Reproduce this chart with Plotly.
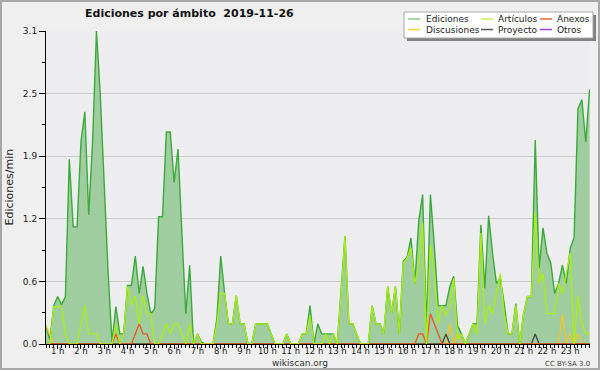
import plotly.graph_objects as go

# ---------------- data (10-minute steps, hours from 0.5) ----------------
hours = [round(0.5 + i / 6, 4) for i in range(141)]

ediciones = [
    0.18, 0.04, 0.38, 0.47, 0.39, 0.47, 1.83, 1.16, 1.16, 2.0, 2.3, 1.28,
    2.0, 3.1, 2.45, 1.5, 0.7, 0.02, 0.37, 0.1, 0.1, 0.58, 0.58, 0.87,
    0.5, 0.77, 0.5, 0.3, 0.35, 1.26, 1.26, 2.1, 2.1, 1.6, 1.93, 1.1,
    0.3, 0.78, 0.0, 0.1, 0.02, 0.0, 0.0, 0.0, 0.25, 0.87, 0.5, 0.2,
    0.2, 0.48, 0.2, 0.2, 0.0, 0.0, 0.2, 0.2, 0.2, 0.2, 0.1, 0.0,
    0.0, 0.0, 0.1, 0.0, 0.0, 0.0, 0.1, 0.1, 0.38, 0.0, 0.2, 0.1,
    0.1, 0.1, 0.1, 0.0, 0.5, 1.07, 0.2, 0.2, 0.1, 0.0, 0.0, 0.0,
    0.38, 0.2, 0.2, 0.1, 0.57, 0.3, 0.57, 0.1, 0.82, 0.86, 1.05, 0.6,
    1.22, 1.48, 0.15, 1.48, 0.98, 0.38, 0.38, 0.38, 0.57, 0.67, 0.18, 0.1,
    0.0, 0.1, 0.2, 0.2, 1.18, 0.55, 1.27, 0.9, 0.6, 0.65, 0.4, 0.1,
    0.1, 0.4, 0.0, 0.3, 0.47, 0.47, 2.02, 0.75, 1.15, 0.9, 0.8, 0.5,
    0.6, 0.78, 0.6, 0.95, 1.05, 2.33, 2.42, 2.0, 2.52,
]

articulos = [
    0.0, 0.0, 0.37, 0.37, 0.37, 0.1, 0.0, 0.0, 0.0, 0.2, 0.38, 0.1,
    0.1, 0.1, 0.0, 0.0, 0.0, 0.0, 0.2, 0.0, 0.1, 0.57, 0.38, 0.48,
    0.2, 0.48, 0.3, 0.3, 0.0, 0.0, 0.1, 0.2, 0.1, 0.2, 0.2, 0.1,
    0.0, 0.2, 0.0, 0.1, 0.0, 0.0, 0.0, 0.0, 0.2, 0.5, 0.5, 0.2,
    0.2, 0.48, 0.2, 0.2, 0.0, 0.0, 0.2, 0.2, 0.2, 0.2, 0.1, 0.0,
    0.0, 0.0, 0.1, 0.0, 0.0, 0.0, 0.1, 0.1, 0.28, 0.0, 0.0, 0.0,
    0.1, 0.0, 0.1, 0.0, 0.5, 1.07, 0.2, 0.2, 0.1, 0.0, 0.0, 0.0,
    0.38, 0.2, 0.2, 0.1, 0.57, 0.3, 0.57, 0.1, 0.8, 0.85, 0.95, 0.6,
    0.8, 1.2, 0.0, 0.98, 0.7, 0.2, 0.38, 0.28, 0.38, 0.65, 0.05, 0.1,
    0.0, 0.1, 0.2, 0.1, 1.1, 0.2, 0.38, 0.3, 0.5, 0.7, 0.3, 0.1,
    0.1, 0.38, 0.0, 0.3, 0.47, 0.47, 1.3, 0.6, 0.7, 0.3, 0.3, 0.3,
    0.6, 0.5, 0.7, 0.9, 0.0, 0.48, 0.2, 0.1, 0.1,
]

anexos = [
    0, 0, 0, 0, 0, 0, 0, 0, 0, 0, 0, 0,
    0, 0, 0, 0, 0, 0, 0.1, 0, 0, 0, 0, 0.1,
    0.2, 0.1, 0.1, 0, 0, 0, 0, 0, 0, 0, 0, 0,
    0, 0, 0, 0, 0, 0, 0, 0, 0, 0, 0, 0,
    0, 0, 0, 0, 0, 0, 0, 0, 0, 0, 0, 0,
    0, 0, 0, 0, 0, 0, 0, 0, 0, 0, 0, 0,
    0, 0, 0, 0, 0, 0, 0, 0, 0, 0, 0, 0,
    0, 0, 0, 0, 0, 0, 0, 0, 0, 0, 0, 0,
    0.1, 0.1, 0, 0.3, 0.2, 0.1, 0, 0, 0, 0, 0, 0,
    0, 0, 0, 0, 0, 0, 0, 0, 0, 0, 0, 0,
    0, 0, 0, 0, 0, 0, 0, 0, 0, 0, 0, 0,
    0, 0, 0, 0, 0, 0, 0, 0, 0,
]

discusiones = [
    0.18, 0.08, 0, 0, 0, 0, 0, 0, 0, 0, 0, 0,
    0, 0, 0, 0, 0, 0, 0, 0, 0, 0, 0, 0,
    0, 0, 0, 0, 0, 0, 0, 0, 0, 0, 0, 0,
    0, 0, 0, 0, 0, 0, 0, 0, 0, 0, 0, 0,
    0, 0, 0, 0, 0, 0, 0, 0, 0, 0, 0, 0,
    0, 0, 0, 0, 0, 0, 0, 0, 0, 0, 0, 0,
    0, 0, 0, 0, 0, 0, 0, 0, 0, 0, 0, 0,
    0, 0, 0, 0, 0, 0, 0, 0, 0, 0, 0, 0,
    0, 0, 0, 0, 0, 0, 0, 0, 0.2, 0, 0.1, 0,
    0, 0, 0, 0, 0, 0, 0, 0, 0, 0, 0, 0,
    0, 0, 0, 0, 0, 0, 0, 0, 0, 0, 0, 0,
    0, 0.3, 0, 0.1, 0, 0.1, 0, 0, 0,
]

proyecto = [
    0, 0, 0, 0, 0, 0, 0, 0, 0, 0, 0, 0,
    0, 0, 0, 0, 0, 0, 0, 0, 0, 0, 0, 0,
    0, 0, 0, 0, 0, 0, 0, 0, 0, 0, 0, 0,
    0, 0, 0, 0, 0, 0, 0, 0, 0, 0, 0, 0,
    0, 0, 0, 0, 0, 0, 0, 0, 0, 0, 0, 0,
    0, 0, 0, 0, 0, 0, 0, 0, 0, 0, 0, 0,
    0, 0, 0, 0, 0, 0, 0, 0, 0, 0, 0, 0,
    0, 0, 0, 0, 0, 0, 0, 0, 0, 0, 0, 0,
    0, 0, 0, 0, 0, 0, 0, 0.1, 0, 0, 0, 0,
    0, 0, 0, 0, 0, 0, 0, 0, 0, 0, 0, 0,
    0, 0, 0, 0, 0, 0, 0.1, 0, 0, 0, 0, 0,
    0, 0, 0, 0, 0, 0, 0, 0, 0,
]

hour_ticks = list(range(1, 24))
hour_labels = [f"{h} h" for h in hour_ticks]
y_ticks = [0, 0.62, 1.24, 1.86, 2.48, 3.1]
y_labels = ["0.0", "0.6", "1.2", "1.9", "2.5", "3.1"]

legend_rows = [["Ediciones", "Artículos", "Anexos"],
               ["Discusiones", "Proyecto", "Otros"]]
colors = {
    "Ediciones": "#3aaa3a", "Artículos": "#aaee11", "Anexos": "#ee5522",
    "Discusiones": "#f2c42a", "Proyecto": "#444444", "Otros": "#9944ee",
}
legend_colors = {
    "Ediciones": "#88cc88", "Artículos": "#c8ee55", "Anexos": "#ee6633",
    "Discusiones": "#ffcc44", "Proyecto": "#555555", "Otros": "#9944ee",
}

# ---------------- geometry ----------------
W, H = 600, 370
L, R, T, B = 46, 590, 31, 344
def fx(px):
    return (px - L) / (R - L)
def fy(py):
    return (B - py) / (B - T)

FONT = "DejaVu Sans"

fig = go.Figure()
fig.add_trace(go.Scatter(x=hours, y=ediciones, name="Ediciones", mode="lines",
                         line=dict(color=colors["Ediciones"], width=1.4),
                         fill="tozeroy", fillcolor="#9fcd9f", showlegend=False))
for nm, vals in [("Discusiones", discusiones), ("Proyecto", proyecto),
                 ("Anexos", anexos), ("Artículos", articulos)]:
    fig.add_trace(go.Scatter(x=hours, y=vals, name=nm, mode="lines",
                             line=dict(color=colors[nm], width=1.3),
                             showlegend=False))

shapes = []
annotations = []
# outer frame
shapes.append(dict(type="rect", xref="paper", yref="paper",
                   x0=fx(1), x1=fx(599), y0=fy(369), y1=fy(1),
                   line=dict(color="#a8a8a8", width=2), layer="below"))
# legend box with shadow
shapes.append(dict(type="rect", xref="paper", yref="paper",
                   x0=fx(407), x1=fx(596), y0=fy(41), y1=fy(15),
                   fillcolor="#808080", line=dict(width=0), layer="above"))
shapes.append(dict(type="rect", xref="paper", yref="paper",
                   x0=fx(404), x1=fx(593), y0=fy(38), y1=fy(12),
                   fillcolor="#ffffff", line=dict(color="#a8a8a8", width=1),
                   layer="above"))
col_line_x = [408, 481, 540]
col_text_x = [424, 496, 555]
row_y = [19, 29.5]
for r, row in enumerate(legend_rows):
    for c, nm in enumerate(row):
        shapes.append(dict(type="line", xref="paper", yref="paper",
                           x0=fx(col_line_x[c]), x1=fx(col_line_x[c] + 12),
                           y0=fy(row_y[r]), y1=fy(row_y[r]),
                           line=dict(color=legend_colors[nm], width=1.5),
                           layer="above"))
        annotations.append(dict(text=nm, xref="paper", yref="paper",
                                x=fx(col_text_x[c]), y=fy(row_y[r]),
                                xanchor="left", yanchor="middle", showarrow=False,
                                font=dict(family=FONT, size=9, color="#222222")))

annotations.append(dict(text="Ediciones/min", xref="paper", yref="paper",
                        x=fx(9), y=0.5, textangle=-90, showarrow=False,
                        xanchor="center", yanchor="middle",
                        font=dict(family=FONT, size=11, color="#222222")))
annotations.append(dict(text="wikiscan.org", xref="paper", yref="paper",
                        x=fx(300), y=fy(363), showarrow=False,
                        xanchor="center", yanchor="middle",
                        font=dict(family=FONT, size=9, color="#333333")))
annotations.append(dict(text="CC BY-SA 3.0", xref="paper", yref="paper",
                        x=fx(592), y=fy(363.5), showarrow=False,
                        xanchor="right", yanchor="middle",
                        font=dict(family=FONT, size=7, color="#444444")))

fig.update_layout(
    width=W, height=H,
    margin=dict(l=L, r=W - R, t=T, b=H - B, pad=0),
    paper_bgcolor="#efefef", plot_bgcolor="#ededef",
    title=dict(text="Ediciones por ámbito\u00a0 2019-11-26", x=85 / W, xanchor="left",
               xref="container", y=1 - 13.5 / H, yanchor="middle", yref="container",
               font=dict(family=FONT, size=11, color="#111111", weight="bold")),
    shapes=shapes, annotations=annotations, showlegend=False,
    xaxis=dict(range=[0.5, 23.85], tickmode="array", tickvals=hour_ticks,
               ticktext=hour_labels, showgrid=False, zeroline=False,
               showline=True, linecolor="#000000", linewidth=1,
               ticks="outside", ticklen=4, tickcolor="#000000", tickwidth=1,
               ticklabelstandoff=-5,
               tickfont=dict(family=FONT, size=8.5, color="#222222"),
               minor=dict(tickmode="linear", tick0=0.5, dtick=1 / 6,
                          ticks="outside", ticklen=3, tickcolor="#000000",
                          showgrid=False),
               fixedrange=True),
    yaxis=dict(range=[0, 3.1], tickmode="array", tickvals=y_ticks,
               ticktext=y_labels, showgrid=True, gridcolor="#cbcbcb", gridwidth=1,
               zeroline=False, showline=True, linecolor="#000000", linewidth=1,
               ticks="outside", ticklen=6, tickcolor="#000000",
               tickfont=dict(family=FONT, size=9, color="#222222"),
               minor=dict(tickmode="linear", tick0=0.31, dtick=0.62,
                          ticks="outside", ticklen=3, tickcolor="#000000",
                          showgrid=False),
               fixedrange=True),
)

fig.write_html("out.html", config={"displayModeBar": False},
               post_script="document.body.style.margin='0px';"
                           "document.body.style.overflow='hidden';")
